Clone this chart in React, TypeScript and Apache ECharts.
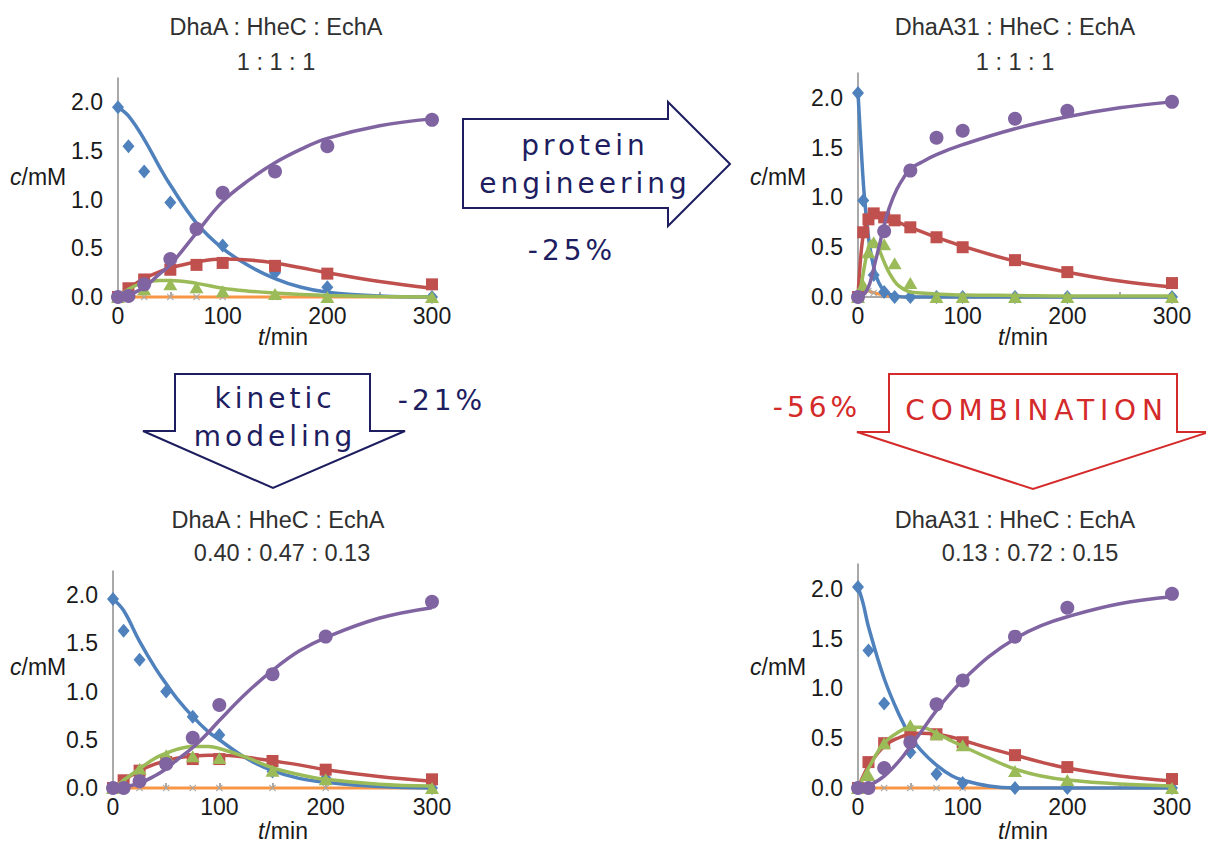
import React, { useEffect, useRef } from "react";
import * as echarts from "echarts";

// ---------- text ----------
const panelTitles = ["DhaA : HheC : EchA", "DhaA31 : HheC : EchA", "DhaA : HheC : EchA", "DhaA31 : HheC : EchA"];
const panelRatios = ["1 : 1 : 1", "1 : 1 : 1", "0.40 : 0.47 : 0.13", "0.13 : 0.72 : 0.15"];
const yTickValues = [0, 0.5, 1.0, 1.5, 2.0];
const xTickValues = [0, 100, 200, 300];

// ---------- top-left: DhaA 1:1:1 ----------
const tlTimes = [0, 10, 25, 50, 75, 100, 150, 200, 300];
const tlBlue = [1.95, 1.55, 1.29, 0.97, 0.7, 0.53, 0.25, 0.1, 0];
const tlRed = [0, 0.09, 0.18, 0.28, 0.33, 0.35, 0.32, 0.24, 0.13];
const tlGreen = [0, 0.04, 0.08, 0.13, 0.1, 0.06, 0.03, 0, 0];
const tlPurple = [0, 0.01, 0.13, 0.39, 0.7, 1.07, 1.29, 1.55, 1.82];
const tlOrange = [0, 0, 0, 0, 0, 0, 0, 0, 0];
const tlFitT = [0, 10, 25, 40, 50, 75, 100, 125, 150, 175, 200, 250, 300];
const tlFitBlue = [1.95, 1.86, 1.62, 1.33, 1.15, 0.76, 0.5, 0.32, 0.19, 0.1, 0.05, 0.01, 0];
const tlFitRed = [0, 0.09, 0.19, 0.26, 0.3, 0.36, 0.39, 0.38, 0.35, 0.3, 0.25, 0.16, 0.09];
const tlFitGreen = [0, 0.08, 0.15, 0.17, 0.17, 0.14, 0.09, 0.06, 0.04, 0.025, 0.015, 0.005, 0];
const tlFitPurple = [0, 0.02, 0.1, 0.24, 0.33, 0.66, 0.98, 1.2, 1.38, 1.52, 1.63, 1.76, 1.83];
const tlFitOrange = [0, 0, 0, 0, 0, 0, 0, 0, 0, 0, 0, 0, 0];

// ---------- top-right: DhaA31 1:1:1 ----------
const trTimes = [0, 5, 10, 15, 25, 35, 50, 75, 100, 150, 200, 300];
const trBlue = [2.05, 0.97, null, 0.22, 0.05, 0, 0, 0, 0, 0, 0, 0];
const trRed = [0, 0.65, 0.78, 0.84, 0.8, 0.77, 0.7, 0.6, 0.5, 0.37, 0.25, 0.14];
const trGreen = [0, 0.12, 0.45, 0.55, 0.53, 0.34, 0.14, 0, 0, 0, 0, 0];
const trPurple = [0, null, null, null, 0.66, null, 1.27, 1.6, 1.67, 1.79, 1.87, 1.96];
const trOrange = [0, 0.05, 0.06, 0.04, 0.02, 0, 0, 0, 0, 0, 0, 0];
const trFitT = [0, 3, 6, 10, 13, 16, 20, 25, 30, 37, 45, 50, 60, 75, 100, 150, 200, 250, 300];
const trFitBlue = [2.05, 1.5, 1.02, 0.6, 0.4, 0.26, 0.14, 0.06, 0.03, 0.01, 0, 0, 0, 0, 0, 0, 0, 0, 0];
const trFitRed = [0, 0.45, 0.68, 0.81, 0.85, 0.86, 0.84, 0.81, 0.79, 0.76, 0.72, 0.7, 0.66, 0.6, 0.51, 0.36, 0.25, 0.16, 0.1];
const trFitGreen = [0, 0.12, 0.3, 0.5, 0.56, 0.55, 0.48, 0.35, 0.24, 0.13, 0.07, 0.05, 0.04, 0.03, 0.02, 0.015, 0.01, 0.01, 0.01];
const trFitPurple = [0, 0.01, 0.03, 0.1, 0.2, 0.33, 0.5, 0.72, 0.9, 1.08, 1.22, 1.29, 1.35, 1.43, 1.53, 1.69, 1.81, 1.9, 1.96];
const trFitOrange = [0, 0.05, 0.07, 0.06, 0.05, 0.04, 0.03, 0.02, 0.01, 0.005, 0, 0, 0, 0, 0, 0, 0, 0, 0];

// ---------- bottom-left: DhaA 0.40:0.47:0.13 ----------
const blTimes = [0, 10, 25, 50, 75, 100, 150, 200, 300];
const blBlue = [1.96, 1.63, 1.33, 1.0, 0.74, 0.55, 0.17, 0.1, 0];
const blRed = [0, 0.08, 0.18, 0.27, 0.3, 0.3, 0.28, 0.19, 0.09];
const blGreen = [0, 0.05, 0.2, 0.34, 0.33, 0.31, 0.18, 0.09, 0];
const blPurple = [0, 0, 0.07, 0.25, 0.52, 0.86, 1.18, 1.57, 1.93];
const blOrange = [0, 0, 0, 0, 0, 0, 0, 0, 0];
const blFitT = [0, 10, 25, 40, 50, 60, 75, 90, 100, 125, 150, 175, 200, 250, 300];
const blFitBlue = [1.96, 1.84, 1.52, 1.24, 1.08, 0.93, 0.74, 0.58, 0.5, 0.31, 0.18, 0.1, 0.06, 0.015, 0];
const blFitRed = [0, 0.08, 0.18, 0.25, 0.28, 0.31, 0.33, 0.34, 0.34, 0.32, 0.28, 0.24, 0.19, 0.12, 0.07];
const blFitGreen = [0, 0.08, 0.2, 0.31, 0.36, 0.4, 0.43, 0.43, 0.41, 0.32, 0.21, 0.14, 0.09, 0.04, 0.02];
const blFitPurple = [0, 0.01, 0.05, 0.13, 0.2, 0.29, 0.42, 0.58, 0.7, 0.98, 1.22, 1.42, 1.56, 1.76, 1.87];
const blFitOrange = [0, 0, 0, 0, 0, 0, 0, 0, 0, 0, 0, 0, 0, 0, 0];

// ---------- bottom-right: DhaA31 0.13:0.72:0.15 ----------
const brTimes = [0, 10, 25, 50, 75, 100, 150, 200, 300];
const brBlue = [2.02, 1.38, 0.85, 0.36, 0.14, 0.05, 0, 0, 0];
const brRed = [0, 0.26, 0.45, 0.54, 0.54, 0.46, 0.33, 0.21, 0.09];
const brGreen = [0, 0.13, 0.45, 0.63, 0.54, 0.43, 0.17, 0.08, 0];
const brPurple = [0, 0, 0.2, 0.46, 0.84, 1.08, 1.52, 1.81, 1.95];
const brOrange = [0, 0, 0, 0, 0, 0, 0, 0, 0];
const brFitT = [0, 5, 10, 25, 40, 50, 60, 75, 90, 100, 125, 150, 175, 200, 250, 300];
const brFitBlue = [2.02, 1.85, 1.62, 1.1, 0.72, 0.52, 0.38, 0.23, 0.12, 0.08, 0.02, 0, 0, 0, 0, 0];
const brFitRed = [0, 0.12, 0.22, 0.42, 0.51, 0.54, 0.55, 0.54, 0.51, 0.48, 0.4, 0.33, 0.26, 0.2, 0.12, 0.07];
const brFitGreen = [0, 0.1, 0.2, 0.45, 0.57, 0.61, 0.61, 0.55, 0.47, 0.42, 0.3, 0.19, 0.12, 0.08, 0.04, 0.02];
const brFitPurple = [0, 0.005, 0.02, 0.12, 0.28, 0.42, 0.56, 0.78, 0.97, 1.08, 1.32, 1.5, 1.63, 1.72, 1.85, 1.92];
const brFitOrange = [0, 0, 0, 0, 0, 0, 0, 0, 0, 0, 0, 0, 0, 0, 0, 0];

// ---------- arrow labels ----------
const arrowTexts = {
  protein: ["protein", "engineering", "-25%"],
  kinetic: ["kinetic", "modeling", "-21%"],
  combo: ["COMBINATION", "-56%"],
};

const panels = [
  { t: tlTimes, pts: [tlOrange, tlBlue, tlRed, tlGreen, tlPurple], ft: tlFitT, fits: [tlFitOrange, tlFitBlue, tlFitRed, tlFitGreen, tlFitPurple] },
  { t: trTimes, pts: [trOrange, trBlue, trRed, trGreen, trPurple], ft: trFitT, fits: [trFitOrange, trFitBlue, trFitRed, trFitGreen, trFitPurple] },
  { t: blTimes, pts: [blOrange, blBlue, blRed, blGreen, blPurple], ft: blFitT, fits: [blFitOrange, blFitBlue, blFitRed, blFitGreen, blFitPurple] },
  { t: brTimes, pts: [brOrange, brBlue, brRed, brGreen, brPurple], ft: brFitT, fits: [brFitOrange, brFitBlue, brFitRed, brFitGreen, brFitPurple] },
];

const FONT = "'Liberation Sans', Arial, sans-serif";
const AFONT = "'DejaVu Sans', Verdana, sans-serif";
const NAVY = "#1d1d5f";
const RED = "#d42a2a";
const lineColors = ["#f79646", "#4f81bd", "#c0504d", "#9bbb59", "#8064a2"];
const markColors = ["#a6a6a6", "#4f81bd", "#c0504d", "#9bbb59", "#8064a2"];
const XMARK = "path://M1,0L5,4L9,0L10,1L6,5L10,9L9,10L5,6L1,10L0,9L4,5L0,1Z";
const symbols: any[] = [XMARK, "diamond", "rect", "triangle", "circle"];
const symbolSizes: any[] = [7, [12, 14], 12, [14, 12], 14];

const grids = [
  { left: 118, top: 78, width: 314, height: 219 },
  { left: 858, top: 73, width: 314, height: 224 },
  { left: 113, top: 571, width: 319, height: 217 },
  { left: 858, top: 564, width: 314, height: 224 },
];
const titlePos = [
  [276, 27, 62, 276],
  [1015, 27, 62, 1015],
  [278, 520, 553, 282],
  [1015, 520, 553, 1030],
];
const yNamePos = [[10, 177], [750, 177], [10, 667], [750, 667]];
const xNamePos = [[283, 337], [1023, 337], [283, 831], [1023, 831]];
const TICK_FS = 23;
const TITLE_FS = 23.5;

export default function App() {
  const ref = useRef<HTMLDivElement>(null);
  useEffect(() => {
    if (!ref.current) return;
    const chart = echarts.init(ref.current, null, { renderer: "svg" });

    const xAxes: any[] = [];
    const yAxes: any[] = [];
    const series: any[] = [];
    const graphics: any[] = [];

    panels.forEach((p, gi) => {
      xAxes.push({
        gridIndex: gi, type: "value", min: 0, max: 300, interval: 50,
        axisLine: { show: true, onZero: false, lineStyle: { color: "#8c8c8c", width: 1.5 } },
        axisTick: { show: true, inside: true, length: 5, lineStyle: { color: "#8c8c8c", width: 1.5 } },
        splitLine: { show: false },
        axisLabel: {
          color: "#1a1a1a", fontSize: TICK_FS, fontFamily: FONT, margin: 7,
          formatter: (v: number) => (xTickValues.indexOf(v) >= 0 ? String(v) : ""),
        },
      });
      yAxes.push({
        gridIndex: gi, type: "value", min: 0, max: 2.25, interval: 0.5,
        axisLine: { show: true, lineStyle: { color: "#8c8c8c", width: 1.5 } },
        axisTick: { show: false },
        splitLine: { show: false },
        axisLabel: {
          color: "#1a1a1a", fontSize: TICK_FS, fontFamily: FONT, margin: 15,
          formatter: (v: number) => (yTickValues.some((y) => Math.abs(y - v) < 1e-6) ? v.toFixed(1) : ""),
        },
      });
      p.fits.forEach((f, si) => {
        series.push({
          type: "line", xAxisIndex: gi, yAxisIndex: gi, clip: false, silent: true,
          smooth: 0.4, showSymbol: false, symbol: "none",
          lineStyle: { color: lineColors[si], width: si === 0 ? 3 : 3.5 },
          data: p.ft.map((t, i) => [t, f[i]]),
          z: 2 + si,
        });
        const pts = p.pts[si];
        series.push({
          type: "scatter", xAxisIndex: gi, yAxisIndex: gi, clip: false, silent: true,
          symbol: symbols[si], symbolSize: symbolSizes[si],
          itemStyle: { color: markColors[si], opacity: 1 },
          data: p.t.map((t, i) => [t, pts[i]]).filter((d) => d[1] !== null),
          z: 2 + si,
        });
      });
      const tp = titlePos[gi];
      graphics.push({
        type: "text", x: tp[0], y: tp[1],
        style: { text: panelTitles[gi], fontSize: TITLE_FS, fontFamily: FONT, fill: "#303030", align: "center", verticalAlign: "middle" },
      });
      graphics.push({
        type: "text", x: tp[3], y: tp[2],
        style: { text: panelRatios[gi], fontSize: TITLE_FS, fontFamily: FONT, fill: "#303030", align: "center", verticalAlign: "middle" },
      });
      graphics.push({
        type: "text", x: yNamePos[gi][0], y: yNamePos[gi][1],
        style: {
          text: "{i|c}{n|/mM}", fontSize: TICK_FS, fontFamily: FONT, fill: "#1a1a1a", align: "left", verticalAlign: "middle",
          rich: { i: { fontStyle: "italic", fontSize: TICK_FS, fontFamily: FONT, fill: "#1a1a1a" }, n: { fontSize: TICK_FS, fontFamily: FONT, fill: "#1a1a1a" } },
        },
      });
      graphics.push({
        type: "text", x: xNamePos[gi][0], y: xNamePos[gi][1],
        style: {
          text: "{i|t}{n|/min}", fontSize: TICK_FS, fontFamily: FONT, fill: "#1a1a1a", align: "center", verticalAlign: "middle",
          rich: { i: { fontStyle: "italic", fontSize: TICK_FS, fontFamily: FONT, fill: "#1a1a1a" }, n: { fontSize: TICK_FS, fontFamily: FONT, fill: "#1a1a1a" } },
        },
      });
    });

    // arrows
    const arrowStyle = (c: string) => ({ fill: "#ffffff", stroke: c, lineWidth: 2 });
    graphics.push({
      type: "polygon", z: 1,
      shape: { points: [[463, 119], [668, 119], [668, 102], [730, 164], [668, 226], [668, 208], [463, 208]] },
      style: arrowStyle(NAVY),
    });
    graphics.push({
      type: "polygon", z: 1,
      shape: { points: [[175, 374], [370, 374], [370, 431], [405, 431], [273, 488], [143, 431], [175, 431]] },
      style: arrowStyle(NAVY),
    });
    graphics.push({
      type: "polygon", z: 1,
      shape: { points: [[889, 374], [1177, 374], [1177, 432], [1209, 432], [1033, 489], [857, 432], [889, 432]] },
      style: arrowStyle(RED),
    });
    const atext = (text: string, x: number, y: number, c: string) => ({
      type: "text", x, y, z: 2,
      style: { text, fontSize: 28, fontFamily: AFONT, fill: c, align: "center", verticalAlign: "middle" },
    });
    graphics.push(atext(arrowTexts.protein[0], 585, 145, NAVY));
    graphics.push(atext(arrowTexts.protein[1], 585, 183, NAVY));
    graphics.push(atext(arrowTexts.protein[2], 572, 250, NAVY));
    graphics.push(atext(arrowTexts.kinetic[0], 275, 398, NAVY));
    graphics.push(atext(arrowTexts.kinetic[1], 275, 436, NAVY));
    graphics.push(atext(arrowTexts.kinetic[2], 442, 400, NAVY));
    graphics.push(atext(arrowTexts.combo[0], 1037, 410, RED));
    graphics.push(atext(arrowTexts.combo[1], 817, 407, RED));

    chart.setOption({
      animation: false,
      backgroundColor: "#ffffff",
      grid: grids.map((g) => ({ ...g, containLabel: false })),
      xAxis: xAxes,
      yAxis: yAxes,
      series,
      graphic: { elements: graphics },
    });

    const spacing: Record<string, string> = { COMBINATION: "5.8" };
    const spaced = new Set<string>([...arrowTexts.protein, ...arrowTexts.kinetic, ...arrowTexts.combo]);
    const tweak = () => {
      if (!ref.current) return;
      ref.current.querySelectorAll("text").forEach((t) => {
        const s = (t.textContent || "").trim();
        if (spaced.has(s)) t.setAttribute("letter-spacing", spacing[s] || "4");
      });
    };
    tweak();
    const h = setTimeout(tweak, 50);
    return () => {
      clearTimeout(h);
      chart.dispose();
    };
  }, []);
  return <div ref={ref} style={{ position: "fixed", left: 0, top: 0, width: 1206, height: 843, background: "#fff" }} />;
}
